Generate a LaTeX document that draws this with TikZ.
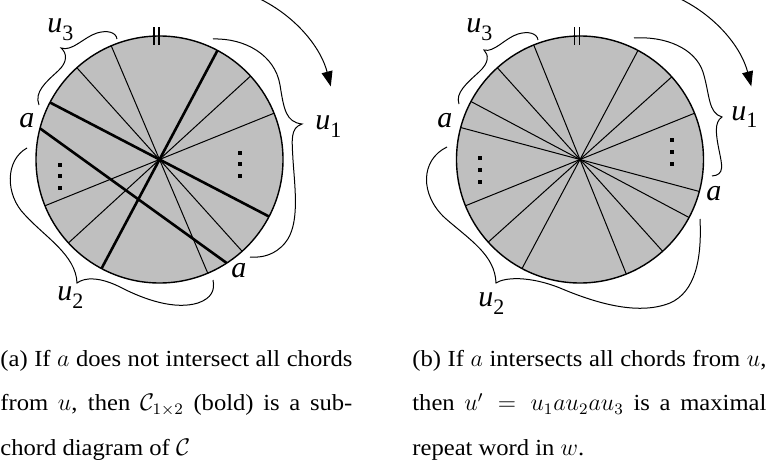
\documentclass[tikz,border=0pt]{standalone}
\usepackage{amsmath}
\usepackage[no-math]{fontspec}
\setmainfont{Liberation Serif}
\newfontfamily\capfont[FakeStretch=1.07]{Liberation Serif}
\usepackage{tikz}
\usetikzlibrary{arrows.meta}
\newcommand{\usub}[1]{\textit{u}\raisebox{-4pt}{\fontsize{11}{11}\upshape\selectfont #1}}

\begin{document}
\begin{tikzpicture}[x=0.5pt, y=-0.5pt, >={Triangle[length=7.5pt,width=5.5pt]},
  disk/.style={draw,line width=0.7pt,fill=black!25},
  chord/.style={line width=0.5pt}, bold/.style={line width=1.3pt},
  brc/.style={line width=0.5pt}, sq/.style={fill,inner sep=0pt,minimum size=2pt},
  lbl/.style={font=\fontsize{15}{15}\selectfont\itshape,inner sep=0pt,anchor=base west},
  captxt/.style={text width=176pt,align=justify,inner sep=0pt,anchor=north west,font=\capfont\fontsize{11.5}{22.2}\selectfont}]
  \useasboundingbox (0,0) rectangle (766,465);
  % (a)
  \begin{scope}[shift={(159.5,159.5)},yscale=-1]
    \filldraw[disk] (0,0) circle[radius=123.5];
    \draw[chord] (22:123.5)--(202:123.5); \draw[chord] (42.5:123.5)--(222.5:123.5);
    \draw[chord] (113:123.5)--(293:123.5); \draw[chord] (132:123.5)--(312:123.5);
    \draw[bold] (62:123.5)--(242:123.5); \draw[bold] (152.5:123.5)--(332.5:123.5);
    \draw[bold] (165.4:123.5)--(303:123.5);
    \draw[line width=0.6pt] (-5.5,114.5)--(-5.5,132.5); \draw[line width=0.6pt] (-0.5,114.5)--(-0.5,132.5);
    \draw[->,line width=0.5pt] (86.7,166.4) arc[start angle=70,end angle=14.4,radius=135];
  \end{scope}
  \node[sq] (al1) at (60,165) {}; \node[sq] (al2) at (60,176.5) {}; \node[sq] (al3) at (60,188) {};
  \node[sq] (ar1) at (240,153) {}; \node[sq] (ar2) at (240,164.5) {}; \node[sq] (ar3) at (240,176) {};
  \draw[brc] (117,39) .. controls (116,32) and (107,30) .. (97,33) .. controls (84,37) and (72,52) .. (61,48)
    .. controls (67,53) and (68,62) .. (58,71) .. controls (46,82) and (34,92) .. (39,105);
  \draw[brc] (213,39) .. controls (245,38) and (275,55) .. (280,85) .. controls (284,110) and (286,122) .. (302,124)
    .. controls (290,128) and (292,140) .. (293,160) .. controls (295,190) and (300,225) .. (285,243)
    .. controls (275,255) and (262,258) .. (250,257);
  \draw[brc] (27,148) .. controls (5,160) and (5,195) .. (25,215) .. controls (45,237) and (76,255) .. (77,283)
    .. controls (85,277) and (100,277) .. (120,287) .. controls (145,300) and (175,310) .. (198,303)
    .. controls (212,298) and (215,290) .. (213,280);
  \node[lbl] (au3) at (47,33) {\usub{3}};
  \node[lbl] (aa1) at (19,128) {a};
  \node[lbl] (au1) at (315,130) {\usub{1}};
  \node[lbl] (aa2) at (231,278) {a};
  \node[lbl] (au2) at (57,300) {\usub{2}};
  % (b)
  \begin{scope}[shift={(580,159.5)},yscale=-1]
    \filldraw[disk] (0,0) circle[radius=123.5];
    \draw[chord] (22:123.5)--(202:123.5); \draw[chord] (42:123.5)--(222:123.5);
    \draw[chord] (62:123.5)--(242:123.5); \draw[chord] (112:123.5)--(292:123.5);
    \draw[chord] (132:123.5)--(312:123.5); \draw[chord] (152:123.5)--(332:123.5);
    \draw[chord] (165:123.5)--(345:123.5);
    \draw[line width=0.6pt] (-5.5,114.5)--(-5.5,132.5); \draw[line width=0.6pt] (-0.5,114.5)--(-0.5,132.5);
    \draw[->,line width=0.5pt] (86.7,166.4) arc[start angle=70,end angle=14.4,radius=135];
  \end{scope}
  \node[sq] (bl1) at (480,158) {}; \node[sq] (bl2) at (480,170) {}; \node[sq] (bl3) at (480,182) {};
  \node[sq] (br1) at (672,140) {}; \node[sq] (br2) at (672,152) {}; \node[sq] (br3) at (672,164) {};
  \draw[brc] (538,40) .. controls (537,33) and (528,31) .. (518,34) .. controls (505,38) and (494,53) .. (484,50)
    .. controls (489,55) and (489,63) .. (479,72) .. controls (467,83) and (455,93) .. (459,104);
  \draw[brc] (634,38) .. controls (665,36) and (695,48) .. (703,72) .. controls (710,95) and (708,113) .. (722,117)
    .. controls (714,122) and (716,135) .. (719,150) .. controls (722,165) and (725,175) .. (712,176);
  \draw[brc] (447,147) .. controls (420,160) and (420,195) .. (445,218) .. controls (470,240) and (495,255) .. (496,283)
    .. controls (505,277) and (530,276) .. (560,288) .. controls (600,305) and (640,315) .. (670,303)
    .. controls (695,292) and (702,260) .. (700,219);
  \node[lbl] (bu3) at (466,33) {\usub{3}};
  \node[lbl] (ba1) at (437,128) {a};
  \node[lbl] (bu1) at (731,120) {\usub{1}};
  \node[lbl] (ba2) at (706,200) {a};
  \node[lbl] (bu2) at (478,306) {\usub{2}};
  % captions
  \node[captxt] (capa) at (0,350) {(a) If $a$ does not intersect all chords\linebreak from $u$, then $\mathcal{C}_{1\times 2}$ (bold) is a sub-\linebreak chord diagram of $\mathcal{C}$};
  \node[captxt,text width=177pt] (capb) at (412,350) {(b) If $a$ intersects all chords from $u$,\linebreak then $u' = u_1au_2au_3$ is a maximal\linebreak repeat word in $w$.};
\end{tikzpicture}
\end{document}
